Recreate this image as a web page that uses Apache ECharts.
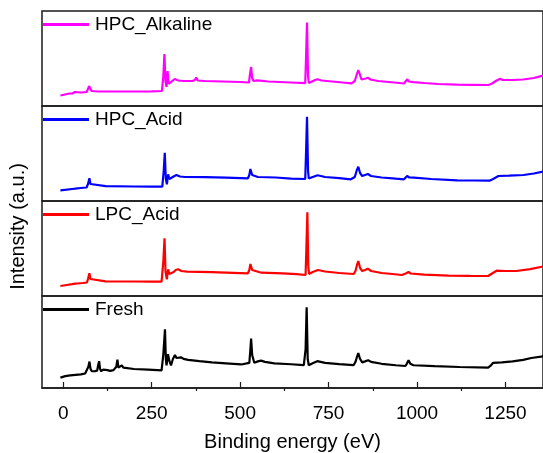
<!DOCTYPE html>
<html>
<head>
<meta charset="utf-8">
<script src="https://cdn.jsdelivr.net/npm/echarts@6/dist/echarts.min.js"></script>
<style>
  html, body { margin: 0; padding: 0; background: #fff; }
  #chart { width: 543px; height: 453px; }
</style>
</head>
<body>
<div id="chart"></div>
<script>
// XPS survey spectra, [binding energy (eV), intensity (a.u.)], one panel per sample
const seriesNames = ['HPC_Alkaline', 'HPC_Acid', 'LPC_Acid', 'Fresh'];
const seriesColors = ['#ff00ff', '#0000ff', '#ff0000', '#000000'];

const hpcAlkaline = [
  [-8, 10.5], [5, 11.5], [18, 12.5], [22, 14], [26, 12.5], [33, 14], [38, 13], [50, 13.5],
  [66, 14], [70, 17], [73, 20], [76, 18], [80, 15], [100, 14.5], [150, 14.5], [200, 14.5],
  [250, 14.7], [279, 15], [283, 30], [286, 52], [289, 25], [292, 19], [295, 35], [298, 22],
  [301, 20], [308, 25], [315, 27], [320, 25], [325, 25.5], [340, 25], [365, 25], [372, 26],
  [376, 28.5], [380, 25.5], [400, 25], [450, 24.5], [500, 24], [525, 23.5], [528, 32],
  [531, 39], [534, 28], [538, 25], [548, 25.7], [580, 24.5], [644, 23.5], [684, 22.8],
  [686, 45], [689, 83.5], [692, 30], [694, 23], [700, 24], [712, 26], [719, 26.7], [730, 25.5],
  [760, 24.5], [790, 23.5], [815, 22.7], [824, 25], [830, 32], [834, 36], [838, 32],
  [843, 26.5], [848, 26], [855, 27.5], [861, 28.3], [868, 26.5], [890, 25], [920, 24],
  [950, 23], [963, 22.5], [968, 24.5], [972, 26.7], [977, 24.5], [990, 23.8], [1020, 23],
  [1060, 22], [1113, 21.3], [1160, 21.2], [1202, 21], [1212, 22.5], [1225, 25.5], [1235, 27.3],
  [1242, 26], [1270, 26], [1300, 26.5], [1330, 28], [1356, 30.5]
];

const hpcAcid = [
  [-8, 10.7], [10, 11.3], [25, 12], [34, 12.3], [50, 13], [66, 13.5], [70, 17], [74, 22.7],
  [77, 17], [81, 15], [120, 14.8], [200, 14.5], [250, 14.3], [280, 14.3], [284, 30],
  [287, 48.3], [290, 22], [293, 16.7], [296.5, 26.7], [300, 22], [304, 21], [312, 24.5],
  [320, 26], [330, 24.5], [344, 24], [400, 23.8], [460, 23.3], [522, 22.7], [526, 26],
  [529, 32], [531, 34], [534, 26], [538, 24], [550, 24], [600, 23.5], [644, 22.3], [684, 22],
  [686, 45], [689, 84.3], [692, 30], [694, 22.5], [705, 24], [719, 25.7], [740, 24], [780, 22.8],
  [813, 21.7], [824, 24], [830, 31], [834, 34.3], [839, 28], [845, 25], [853, 26], [861, 27],
  [870, 25], [900, 23.5], [940, 22.3], [963, 21.7], [968, 23.5], [972, 25], [978, 23.5],
  [991, 23.3], [1040, 22], [1113, 20.7], [1160, 20.5], [1205, 20.3], [1215, 22], [1230, 25],
  [1260, 25.3], [1301, 26], [1330, 27.5], [1356, 29.5]
];

const lpcAcid = [
  [-8, 10], [10, 11], [25, 11.8], [34, 12.3], [37, 13.7], [40, 12.5], [55, 13], [67, 13.5],
  [70, 17], [74, 22.7], [77, 17], [81, 15], [120, 14.7], [200, 14.5], [250, 14.3], [278, 14.3],
  [283, 35], [286.3, 57.7], [289, 25], [292.8, 16.7], [296.5, 26.7], [300, 22], [304, 20],
  [312, 24], [318, 26], [324.7, 26.7], [334, 25], [350, 24.3], [420, 23.8], [480, 23.2],
  [522, 22.7], [526, 26], [529, 32], [531, 34], [534, 26], [538, 24], [560, 23.3], [620, 22.7],
  [660, 21.8], [685, 21], [687, 45], [690, 83.7], [692.5, 30], [695, 22], [705, 24], [720, 26],
  [740, 24.5], [780, 23], [821, 22], [826, 25], [831, 32], [834, 35], [839, 28], [845, 25],
  [853, 26], [861, 27.3], [870, 25], [900, 23], [930, 22], [957, 21], [968, 22.5], [976, 24],
  [982, 22.5], [1020, 21.3], [1089, 20.3], [1150, 20.1], [1201, 20], [1212, 22.5],
  [1225, 25.3], [1250, 25], [1280, 25], [1320, 26.8], [1356, 29.5]
];

const fresh = [
  [-8, 10.7], [5.7, 12.3], [20, 13], [35, 13.5], [50, 14], [62, 15], [67, 16], [71, 22],
  [74.2, 27.3], [77, 20], [80.8, 17.3], [90, 17.5], [96, 18], [99, 24], [101.5, 27.7],
  [104, 20], [107, 17.3], [113, 19], [118.4, 20], [125, 18.5], [132.5, 17.7], [142, 18.5],
  [150, 22], [153.2, 29.3], [156, 21], [158, 19], [165.5, 23.3], [170, 21], [175, 20],
  [200, 19.6], [240, 19], [278, 18.3], [283, 35], [287.6, 60.7], [290, 30], [292, 23.3],
  [296, 35], [300, 28], [304.6, 23.3], [310, 30], [315.8, 34], [320, 31], [323, 30],
  [332.7, 31.7], [340, 30], [353, 29], [385, 27.8], [420, 26.5], [460, 25.5], [503, 24.3],
  [526, 26], [529, 40], [531, 51], [534, 34], [540, 26], [550, 27.5], [559, 28.3], [570, 27],
  [597, 25.5], [644, 24.5], [680, 23.7], [685, 40], [688, 83.3], [691, 30], [694, 23.5],
  [705, 25.5], [718, 27.7], [740, 26], [780, 24.7], [821, 23.7], [826, 27], [831, 33], [834, 36],
  [839, 30], [845, 26.5], [853, 27.5], [862, 28.7], [870, 27], [900, 25], [940, 23.5],
  [967, 22.7], [971, 25], [976, 28.7], [981, 25], [990, 23.5], [1050, 22.5], [1120, 21.7],
  [1201, 21], [1208, 23], [1215, 26], [1240, 26.5], [1270, 27.5], [1300, 29], [1323, 31],
  [1356, 32.7]
];

const spectra = [hpcAlkaline, hpcAcid, lpcAcid, fresh];

// Bottom axis ticks (eV)
const majorTicks = [0, 250, 500, 750, 1000, 1250];
const minorTicks = [125, 375, 625, 875, 1125];

const X_MIN = -60, X_MAX = 1356;
const FONT = '"Liberation Sans", Arial, sans-serif';
const PANEL_TOP = 11, PANEL_H = 95, LEFT = 42;

const grids = [], xAxes = [], yAxes = [], series = [], legends = [];

spectra.forEach((data, i) => {
  const top = PANEL_TOP + i * PANEL_H;
  const isBottom = i === spectra.length - 1;
  grids.push({
    left: LEFT, right: -2, top: top, height: PANEL_H,
    show: true, borderColor: '#1a1a1a', borderWidth: 1.5, backgroundColor: 'transparent'
  });
  xAxes.push({
    type: 'value', gridIndex: i, min: X_MIN, max: X_MAX,
    splitLine: { show: false },
    axisLine: { show: isBottom, onZero: false, lineStyle: { color: '#1a1a1a', width: 1.5 } },
    axisTick: {
      show: isBottom, inside: true, length: 6,
      customValues: majorTicks, lineStyle: { color: '#1a1a1a', width: 1.2 }
    },
    axisLabel: {
      show: isBottom, customValues: majorTicks, margin: 16,
      formatter: (v) => String(v),
      color: '#000', fontFamily: FONT, fontSize: 19
    },
    name: isBottom ? 'Binding energy (eV)' : '',
    nameLocation: 'middle', nameGap: 44,
    nameTextStyle: { color: '#000', fontFamily: FONT, fontSize: 20 }
  });
  yAxes.push({
    type: 'value', gridIndex: i, min: 0, max: PANEL_H, show: false
  });
  series.push({
    name: seriesNames[i], type: 'line', xAxisIndex: i, yAxisIndex: i,
    data: data, symbol: 'none', showSymbol: false,
    lineStyle: { color: seriesColors[i], width: 2.2 },
    itemStyle: { color: seriesColors[i] },
    z: 3
  });
  legends.push({
    data: [{ name: seriesNames[i], icon: 'rect' }],
    left: 43, top: top + 4, padding: 0,
    itemWidth: 46, itemHeight: 3, itemGap: 0,
    textStyle: { color: '#000', fontFamily: FONT, fontSize: 19, padding: [0, 0, 0, 1] }
  });
});

// Minor ticks on the bottom axis
xAxes.push({
  type: 'value', gridIndex: spectra.length - 1, min: X_MIN, max: X_MAX,
  splitLine: { show: false }, axisLine: { show: false }, axisLabel: { show: false },
  axisTick: {
    show: true, inside: true, length: 3,
    customValues: minorTicks, lineStyle: { color: '#1a1a1a', width: 1.2 }
  }
});

const chart = echarts.init(document.getElementById('chart'), null, { renderer: 'canvas' });
chart.setOption({
  animation: false,
  backgroundColor: '#ffffff',
  grid: grids,
  xAxis: xAxes,
  yAxis: yAxes,
  legend: legends,
  series: series,
  graphic: [{
    type: 'text', left: 8, top: 'middle', rotation: Math.PI / 2,
    style: {
      text: 'Intensity (a.u.)', fill: '#000',
      font: '20px ' + FONT
    }
  }]
});
</script>
</body>
</html>
